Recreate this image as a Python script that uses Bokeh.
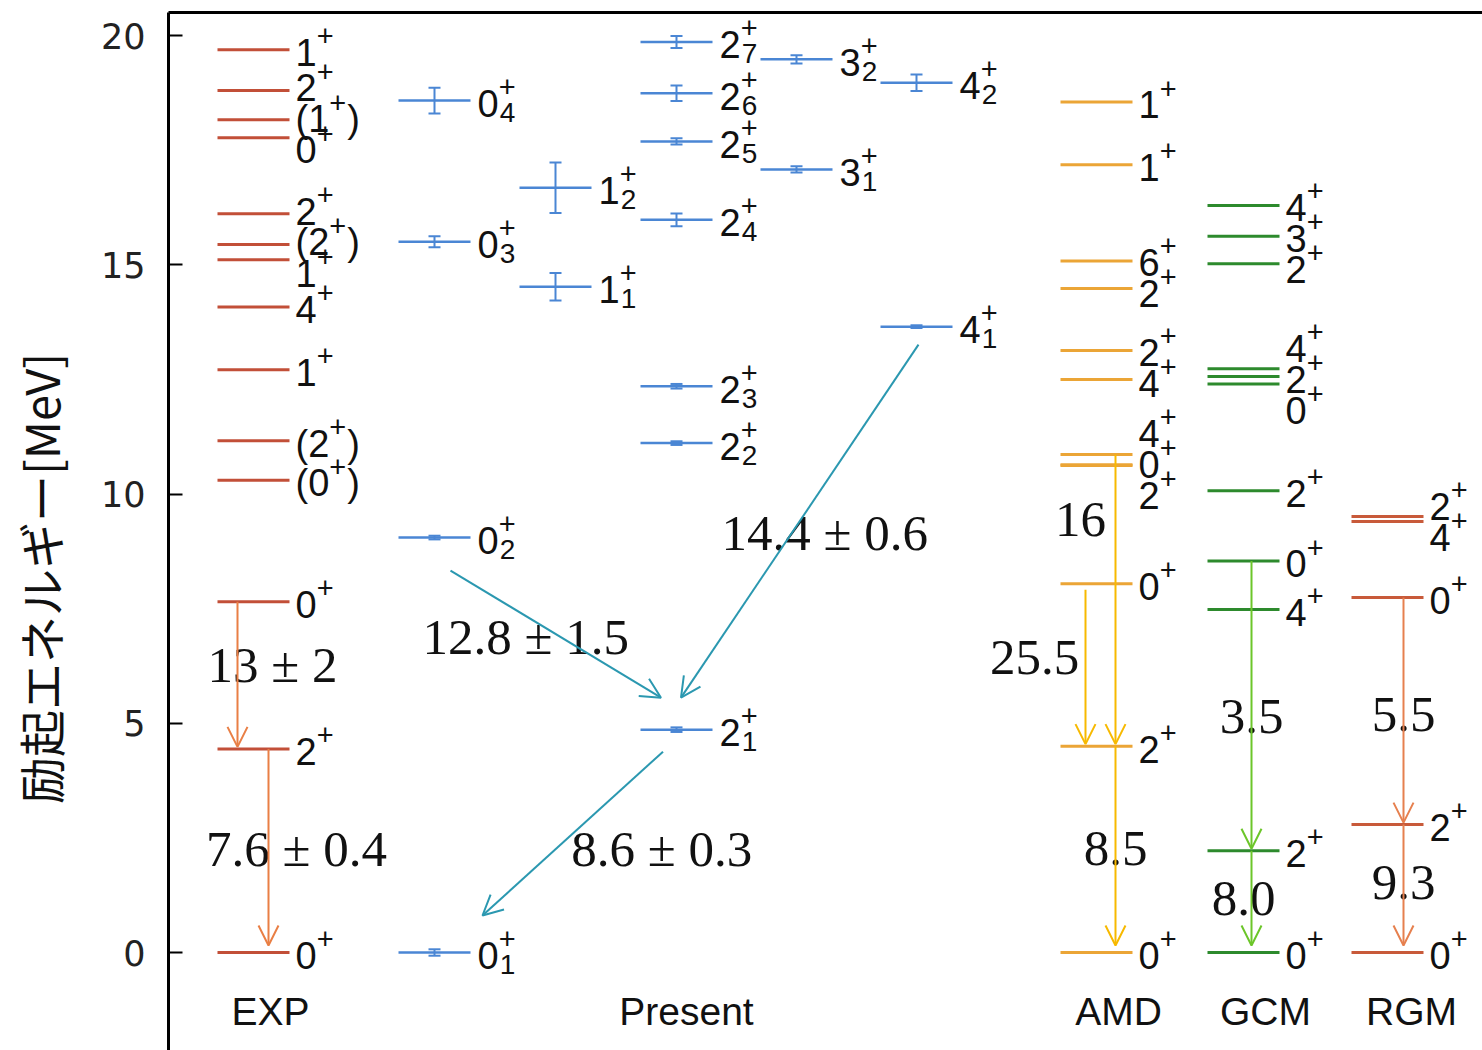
from bokeh.plotting import figure
from bokeh.models import Range1d, FixedTicker, LinearAxis, Arrow, OpenHead, ColumnDataSource
from bokeh.core.properties import value
from bokeh.embed import file_html
from bokeh.resources import INLINE

# ---------------- data (excitation energies in MeV) ----------------
EXP_E = [0.00, 4.44, 7.65, 10.30, 11.16, 12.71, 14.08, 15.11, 15.44, 16.11, 17.77, 18.16, 18.80, 19.69]
EXP_J = ["0+", "2+", "0+", "(0+)", "(2+)", "1+", "4+", "1+", "(2+)", "2+", "0+", "(1+)", "2+", "1+"]

PRES_J = [0, 0, 0, 0, 1, 1, 2, 2, 2, 2, 2, 2, 2, 3, 3, 4, 4]
PRES_N = [1, 2, 3, 4, 1, 2, 1, 2, 3, 4, 5, 6, 7, 1, 2, 1, 2]
PRES_E = [0.00, 9.05, 15.50, 18.58, 14.52, 16.68, 4.86, 11.11, 12.35, 15.98, 17.69, 18.74, 19.86,
          17.08, 19.48, 13.65, 18.97]
PRES_ERR = [0.07, 0.04, 0.12, 0.28, 0.30, 0.55, 0.05, 0.04, 0.05, 0.14, 0.07, 0.17, 0.13,
            0.07, 0.09, 0.03, 0.18]

AMD_E = [0.00, 4.50, 8.04, 10.62, 10.64, 10.86, 12.50, 13.13, 14.48, 15.08, 17.18, 18.55]
AMD_J = ["0+", "2+", "0+", "2+", "0+", "4+", "4+", "2+", "2+", "6+", "1+", "1+"]

GCM_E = [0.00, 2.22, 7.48, 8.54, 10.07, 12.40, 12.56, 12.73, 15.02, 15.62, 16.29]
GCM_J = ["0+", "2+", "4+", "0+", "2+", "0+", "2+", "4+", "2+", "3+", "4+"]

RGM_E = [0.00, 2.79, 7.74, 9.40, 9.51]
RGM_J = ["0+", "2+", "0+", "4+", "2+"]

# transitions: indices into the level lists, and B(E2) values
EXP_TR_FROM = [2, 1]
EXP_TR_TO = [1, 0]
EXP_TR_VAL = ["13 ± 2", "7.6 ± 0.4"]
PRES_TR_FROM = [1, 15, 6]
PRES_TR_TO = [6, 6, 0]
PRES_TR_VAL = ["12.8 ± 1.5", "14.4 ± 0.6", "8.6 ± 0.3"]
AMD_TR_FROM = [2, 5, 1]
AMD_TR_TO = [1, 1, 0]
AMD_TR_VAL = ["25.5", "16", "8.5"]
GCM_TR_FROM = [3, 1]
GCM_TR_TO = [1, 0]
GCM_TR_VAL = ["3.5", "8.0"]
RGM_TR_FROM = [2, 1]
RGM_TR_TO = [1, 0]
RGM_TR_VAL = ["5.5", "9.3"]

COLUMN_TITLES = ["EXP", "Present", "AMD", "GCM", "RGM"]
Y_TICKS = [0, 5, 10, 15, 20]
Y_LABEL = "励起エネルギー[MeV]"

# ---------------- layout / style ----------------
W, H = 1482, 1050
LEFT, TOP = 168, 12
PX = 45.85                      # pixels per MeV
Y_TOP = 20 + 23 / PX
Y_BOT = -(98 / PX)
LEVEL_W = 72
EXP_X, AMD_X, GCM_X, RGM_X = 217, 1060, 1207, 1351
PRES_X = [398, 519, 640, 760, 880]

C_EXP, C_EXP_AR = "#c24f38", "#e97f45"
C_PRES, C_PRES_AR = "#4a86d4", "#2b98b0"
C_AMD, C_AMD_AR = "#eba536", "#f7b900"
C_GCM, C_GCM_AR = "#2d8a2d", "#6cc62a"
C_RGM, C_RGM_AR = "#c85a3a", "#e6804f"
TXT = "#111111"

FS_MAIN, FS_SUP, FS_SUB = 38, 29, 28
SANS = value("Liberation Sans")
SERIF = value("Liberation Serif")
GAP = 31 / PX
BL = 0.36   # renderer's baseline shift (in em) compensated below


def lift(fs):
    return BL * fs / PX


p = figure(width=W, height=H, output_backend="svg", toolbar_location=None,
           x_range=Range1d(LEFT, W), y_range=Range1d(Y_BOT, Y_TOP),
           x_axis_location=None, y_axis_location="left",
           min_border_left=LEFT, min_border_top=TOP, min_border_right=0, min_border_bottom=0)
p.outline_line_color = None
p.grid.visible = False
p.background_fill_color = "white"
p.border_fill_color = "white"

ya = p.yaxis[0]
ya.ticker = FixedTicker(ticks=Y_TICKS)
ya.minor_tick_line_color = None
ya.major_tick_in = 14
ya.major_tick_out = 0
ya.major_tick_line_width = 2
ya.axis_line_width = 3
ya.axis_line_color = "black"
ya.major_label_text_font = "DejaVu Sans"
ya.major_label_text_font_size = "35px"
ya.major_label_text_color = "#222222"
ya.major_label_standoff = 23
# two ideographic spaces at the (upper) end move the visible label 1 em down
ya.axis_label = Y_LABEL + "\u3000\u3000"
ya.axis_label_text_font = "Noto Sans CJK JP"
ya.axis_label_text_font_size = "47px"
ya.axis_label_text_font_style = "normal"
ya.axis_label_text_color = TXT
ya.axis_label_standoff = 24

top_axis = LinearAxis(ticker=FixedTicker(ticks=[]), major_tick_line_color=None,
                      minor_tick_line_color=None, major_label_text_font_size="0px",
                      axis_line_width=3, axis_line_color="black")
p.add_layout(top_axis, "above")


def spread(vals, gap):
    order = sorted(range(len(vals)), key=lambda i: vals[i])
    clusters = []
    for i in order:
        clusters.append([i])
        while len(clusters) > 1:
            a, b = clusters[-2], clusters[-1]
            ca = sum(vals[k] for k in a) / len(a)
            cb = sum(vals[k] for k in b) / len(b)
            top_a = ca + (len(a) - 1) / 2 * gap
            bot_b = cb - (len(b) - 1) / 2 * gap
            if bot_b - top_a < gap:
                clusters[-2:] = [a + b]
            else:
                break
    out = [0.0] * len(vals)
    for cl in clusters:
        c = sum(vals[k] for k in cl) / len(cl)
        for j, k in enumerate(cl):
            out[k] = c + (j - (len(cl) - 1) / 2) * gap
    return out


ADV = {"(": 0.333, ")": 0.333, "+": 0.584}
labels = {"main": [[], [], []], "sup": [[], [], []], "sub": [[], [], []]}


def add_labels(x_left, energies, spins, subs=None):
    centers = spread(energies, GAP)
    for i, s in enumerate(spins):
        c = centers[i] - 3 / PX
        paren = s.startswith("(")
        core = s.strip("()")
        digit = core[:-1]
        pre = ("(" if paren else "") + digit
        w = sum(ADV.get(ch, 0.556) for ch in pre) * FS_MAIN
        base_main = c - (0.716 * FS_MAIN / 2) / PX + lift(FS_MAIN)
        labels["main"][0].append(x_left); labels["main"][1].append(base_main); labels["main"][2].append(pre)
        labels["sup"][0].append(x_left + w)
        labels["sup"][1].append(c + 6 / PX + lift(FS_SUP)); labels["sup"][2].append("+")
        if subs is not None:
            labels["sub"][0].append(x_left + w + 1)
            labels["sub"][1].append(c - 19 / PX + lift(FS_SUB))
            labels["sub"][2].append(str(subs[i]))
        if paren:
            labels["main"][0].append(x_left + w + ADV["+"] * FS_SUP + 1)
            labels["main"][1].append(base_main)
            labels["main"][2].append(")")


def levels(x_left, energies, color, lw=3):
    p.segment(x0=[x_left] * len(energies), x1=[x_left + LEVEL_W] * len(energies),
              y0=energies, y1=energies, line_color=color, line_width=lw)


# simple columns
for xl, E, J, col in [(EXP_X, EXP_E, EXP_J, C_EXP), (AMD_X, AMD_E, AMD_J, C_AMD),
                      (GCM_X, GCM_E, GCM_J, C_GCM), (RGM_X, RGM_E, RGM_J, C_RGM)]:
    levels(xl, E, col)
    add_labels(xl + LEVEL_W + 6, E, J)

# present work columns (grouped by spin)
for j, xl in enumerate(PRES_X):
    idx = [k for k in range(len(PRES_J)) if PRES_J[k] == j]
    E = [PRES_E[k] for k in idx]
    err = [PRES_ERR[k] for k in idx]
    levels(xl, E, C_PRES, lw=2.5)
    xc = xl + LEVEL_W / 2
    p.segment(x0=[xc] * len(E), x1=[xc] * len(E),
              y0=[e - d for e, d in zip(E, err)], y1=[e + d for e, d in zip(E, err)],
              line_color=C_PRES, line_width=2)
    for sgn in (-1, 1):
        ys = [e + sgn * d for e, d in zip(E, err)]
        p.segment(x0=[xc - 6] * len(E), x1=[xc + 6] * len(E), y0=ys, y1=ys,
                  line_color=C_PRES, line_width=2)
    add_labels(xl + LEVEL_W + 7, E, [f"{j}+"] * len(E), subs=[PRES_N[k] for k in idx])

for key, fs in [("main", FS_MAIN), ("sup", FS_SUP), ("sub", FS_SUB)]:
    xs, ys, ts = labels[key]
    if xs:
        p.text(x=xs, y=ys, text=ts, text_font=SANS, text_font_size=f"{fs}px",
               text_baseline="alphabetic", text_align="left", text_color=TXT)

# ---------------- transitions ----------------
ar_src = {c: dict(x0=[], y0=[], x1=[], y1=[]) for c in
          [C_EXP_AR, C_PRES_AR, C_AMD_AR, C_GCM_AR, C_RGM_AR]}
tr_labels = dict(x=[], y=[], t=[])

# vertical arrows: (column left, levels, from, to, values, colour, arrow x within column,
#                   start gap px, label offsets px (dx, dy down))
vert = [
    (EXP_X, EXP_E, EXP_TR_FROM, EXP_TR_TO, EXP_TR_VAL, C_EXP_AR, [20, 51], [0, 0], [(35, -8), (28, 3)]),
    (AMD_X, AMD_E, AMD_TR_FROM, AMD_TR_TO, AMD_TR_VAL, C_AMD_AR, [25, 55, 55], [6, 0, 0],
     [(-51, -8), (-35, -79), (0, 4)]),
    (GCM_X, GCM_E, GCM_TR_FROM, GCM_TR_TO, GCM_TR_VAL, C_GCM_AR, [44, 44], [0, 0], [(0, 13), (-8, 2)]),
    (RGM_X, RGM_E, RGM_TR_FROM, RGM_TR_TO, RGM_TR_VAL, C_RGM_AR, [52, 52], [0, 0], [(0, 6), (0, -1)]),
]
for xl, E, fr, to, vals, col, axs, gaps, offs in vert:
    for k in range(len(fr)):
        x = xl + axs[k]
        e0 = E[fr[k]] - gaps[k] / PX
        e1 = E[to[k]] + (7 if E[to[k]] == 0 else 2) / PX
        d = ar_src[col]
        d["x0"].append(x); d["y0"].append(e0); d["x1"].append(x); d["y1"].append(e1)
        mx, my = x + offs[k][0], (e0 + e1) / 2 - offs[k][1] / PX
        tr_labels["x"].append(mx); tr_labels["y"].append(my); tr_labels["t"].append(vals[k])

# diagonal arrows of the present work: start/end offsets from level centres (px)
pres_geo = [((16, 33), (-15.5, -32)), ((2, 18), (4.5, -32)), ((-13.5, 22), (48, -37))]
pres_off = [(-30, 4.5), (25, 12.5), (89, 17)]
for k in range(len(PRES_TR_FROM)):
    a, b = PRES_TR_FROM[k], PRES_TR_TO[k]
    xa = PRES_X[PRES_J[a]] + LEVEL_W / 2 + pres_geo[k][0][0]
    ya0 = PRES_E[a] - pres_geo[k][0][1] / PX
    xb = PRES_X[PRES_J[b]] + LEVEL_W / 2 + pres_geo[k][1][0]
    yb = PRES_E[b] - pres_geo[k][1][1] / PX
    d = ar_src[C_PRES_AR]
    d["x0"].append(xa); d["y0"].append(ya0); d["x1"].append(xb); d["y1"].append(yb)
    tr_labels["x"].append((xa + xb) / 2 + pres_off[k][0])
    tr_labels["y"].append((ya0 + yb) / 2 - pres_off[k][1] / PX)
    tr_labels["t"].append(PRES_TR_VAL[k])

for col, d in ar_src.items():
    p.add_layout(Arrow(end=OpenHead(size=20, line_color=col, line_width=2),
                       x_start="x0", y_start="y0", x_end="x1", y_end="y1",
                       line_color=col, line_width=2, source=ColumnDataSource(d)))

FS_NUM = 51
p.text(x=tr_labels["x"],
       y=[y - (0.676 * FS_NUM / 2) / PX + lift(FS_NUM) for y in tr_labels["y"]], text=tr_labels["t"],
       text_font=SERIF, text_font_size=f"{FS_NUM}px", text_align="center",
       text_baseline="alphabetic", text_color=TXT)

# column titles
FS_T = 39
title_x = [EXP_X + LEVEL_W / 2 + 17, PRES_X[2] + LEVEL_W / 2 + 10, AMD_X + LEVEL_W / 2 + 22,
           GCM_X + LEVEL_W / 2 + 22, RGM_X + LEVEL_W / 2 + 24]
p.text(x=title_x, y=[-73 / PX + lift(FS_T)] * 5, text=COLUMN_TITLES, text_font=SANS,
       text_font_size=f"{FS_T}px", text_align="center", text_baseline="alphabetic", text_color=TXT)

open("out.html", "w").write(file_html(p, INLINE))
